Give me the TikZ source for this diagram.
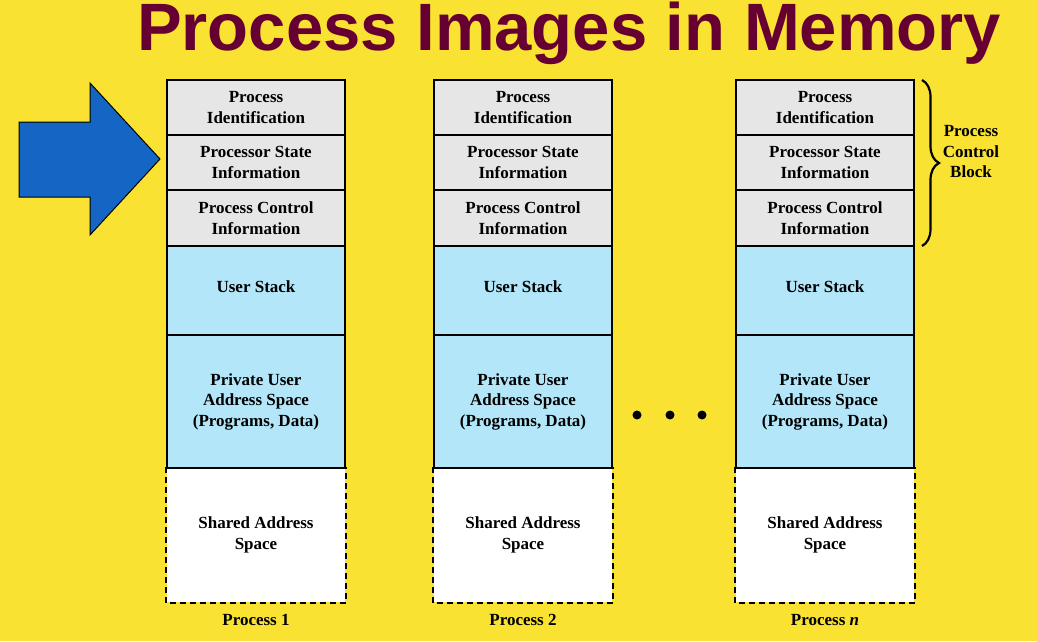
\documentclass[tikz,border=0pt]{standalone}
\usepackage{fontspec}
\setmainfont{Liberation Serif}
\newfontfamily\titlefont{Liberation Sans}
\usetikzlibrary{decorations.pathreplacing}
\definecolor{bgyellow}{HTML}{F9E231}
\definecolor{cellgray}{HTML}{E6E6E6}
\definecolor{cellblue}{HTML}{B3E6F8}
\definecolor{titlered}{HTML}{660033}
\definecolor{arrowblue}{HTML}{1565C4}
\tikzset{
  cellbox/.style={draw=black, line width=2pt, minimum width=178pt, align=center,
    font=\fontsize{17}{20.5}\selectfont\bfseries, inner sep=0pt},
  pcb/.style={cellbox, fill=cellgray, minimum height=55.5pt},
  stackbox/.style={cellbox, fill=cellblue, minimum height=89pt, text depth=8pt},
  privbox/.style={cellbox, fill=cellblue, minimum height=133pt},
  sharedbox/.style={cellbox, draw=none, fill=white, minimum height=134pt},
  dashedge/.style={line width=2pt, dash pattern=on 6pt off 4pt},
  proclabel/.style={font=\fontsize{17}{20.5}\selectfont\bfseries, inner sep=0pt},
  dotmark/.style={circle, fill=black, inner sep=0pt, minimum size=9pt}
}
\begin{document}
\begin{tikzpicture}[x=1pt,y=-1pt]
\fill[bgyellow] (0,0) rectangle (1037,641);
\useasboundingbox (0,0) rectangle (1037,641);
\node[anchor=base west, inner sep=0pt, text=titlered, font=\titlefont\fontsize{67}{70}\selectfont\bfseries] (title) at (137,50) {Process Images in Memory};
% arrow
\draw[fill=arrowblue, line width=1pt] (19,122) -- (90,122) -- (90,83) -- (160,159) -- (90,235) -- (90,197) -- (19,197) -- cycle;
% columns
\foreach \c/\x/\lab in {1/256/{Process 1}, 2/523/{Process 2}, 3/825/{Process \textit{n}}}{
  \node[sharedbox] (sh\c) at (\x,535) {Shared Address\\Space};
  \draw[dashedge] (sh\c.north west) -- (sh\c.south west) -- (sh\c.south east) -- (sh\c.north east);
  \node[pcb] (pid\c) at (\x,107.5) {Process\\Identification};
  \node[pcb] (psi\c) at (\x,162.5) {Processor State\\Information};
  \node[pcb] (pci\c) at (\x,218) {Process Control\\Information};
  \node[stackbox] (us\c) at (\x,290.5) {User Stack};
  \node[privbox] (pua\c) at (\x,401.5) {Private User\\Address Space\\(Programs, Data)};
  \node[proclabel, anchor=base] (lab\c) at (\x,625) {\lab};
}
% dots
\node[dotmark] (d1) at (637,415) {};
\node[dotmark] (d2) at (670,415) {};
\node[dotmark] (d3) at (702,415) {};
% brace
\coordinate (bt) at (922,80);
\coordinate (bb) at (922,246);
\draw[line width=2.2pt, decorate, decoration={brace, amplitude=17pt, aspect=0.5}] (bt) -- (bb);
\node[proclabel, align=center] (pcblab) at (971,152) {Process\\Control\\Block};
\end{tikzpicture}
\end{document}
